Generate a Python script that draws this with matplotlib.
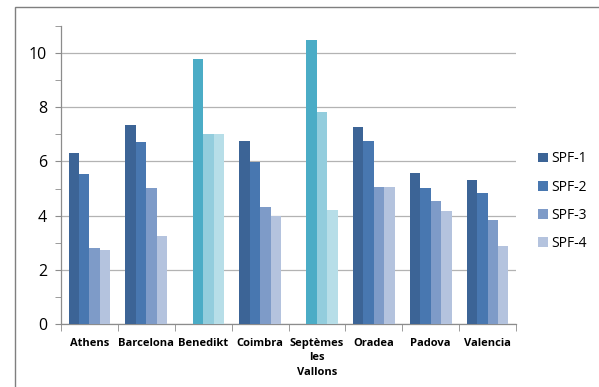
import matplotlib.pyplot as plt
import numpy as np
from matplotlib.patches import Rectangle
from matplotlib.ticker import MultipleLocator

plt.rcParams['font.family'] = ['Open Sans', 'DejaVu Sans']

# data
cities = ["Athens", "Barcelona", "Benedikt", "Coimbra", "Septèmes\nles\nVallons",
          "Oradea", "Padova", "Valencia"]
series = ["SPF-1", "SPF-2", "SPF-3", "SPF-4"]
spf1 = [6.30, 7.34, np.nan, 6.76, np.nan, 7.29, 5.58, 5.33]
spf2 = [5.52, 6.71, 9.78, 5.99, 10.49, 6.74, 5.03, 4.85]
spf3 = [2.81, 5.03, 7.03, 4.33, 7.81, 5.05, 4.53, 3.84]
spf4 = [2.72, 3.24, 7.03, 3.97, 4.20, 5.05, 4.17, 2.87]
values = [spf1, spf2, spf3, spf4]

blues = ["#3C6496", "#4877B0", "#7E9BC8", "#B4C3DE"]
teals = ["#31859C", "#4BACC6", "#93CDDD", "#B7DEE8"]
teal_cities = {2, 4}

fig = plt.figure(figsize=(5.99, 3.87), dpi=100)
# chart frame
fig.patches.append(Rectangle((15 / 599, -0.05), 1.2, 1 - 7 / 387 + 0.05,
                             transform=fig.transFigure, fill=False,
                             edgecolor="#7F7F7F", lw=1.0))
ax = fig.add_axes([61 / 599, 63 / 387, 455 / 599, 298 / 387])

x = np.arange(len(cities))
w = 0.184
for k, name in enumerate(series):
    cols = [teals[k] if i in teal_cities else blues[k] for i in range(len(cities))]
    ax.bar(x + (k - 1.5) * w, values[k], w, color=cols, label=name, zorder=3)

ax.set_xlim(-0.5, len(cities) - 0.5)
ax.set_ylim(0, 11)
ax.yaxis.set_major_locator(MultipleLocator(2))
ax.yaxis.set_minor_locator(MultipleLocator(1))
ax.grid(axis="y", which="major", color="#B3B3B3", lw=0.9, zorder=0)
ax.set_xticks(x)
ax.set_xticklabels(cities, fontsize=8, fontweight="bold", linespacing=1.45,
                   va="top")
ax.set_xticks(np.arange(len(cities) + 1) - 0.5, minor=True)
ax.tick_params(axis="x", which="major", length=0, pad=10)
ax.tick_params(axis="x", which="minor", length=5, color="#8C8C8C", direction="out")
ax.tick_params(axis="y", which="both", length=4, color="#8C8C8C", labelsize=11.5,
               pad=6)
for s in ["top", "right"]:
    ax.spines[s].set_visible(False)
for s in ["left", "bottom"]:
    ax.spines[s].set_color("#8C8C8C")
    ax.spines[s].set_linewidth(0.9)

ax.legend(loc="center left", bbox_to_anchor=(1.048, 0.412), frameon=False,
          fontsize=10, handlelength=0.7, handleheight=0.7, handletextpad=0.25,
          labelspacing=0.95, borderpad=0, borderaxespad=0)

fig.savefig("out.png", dpi=100)
